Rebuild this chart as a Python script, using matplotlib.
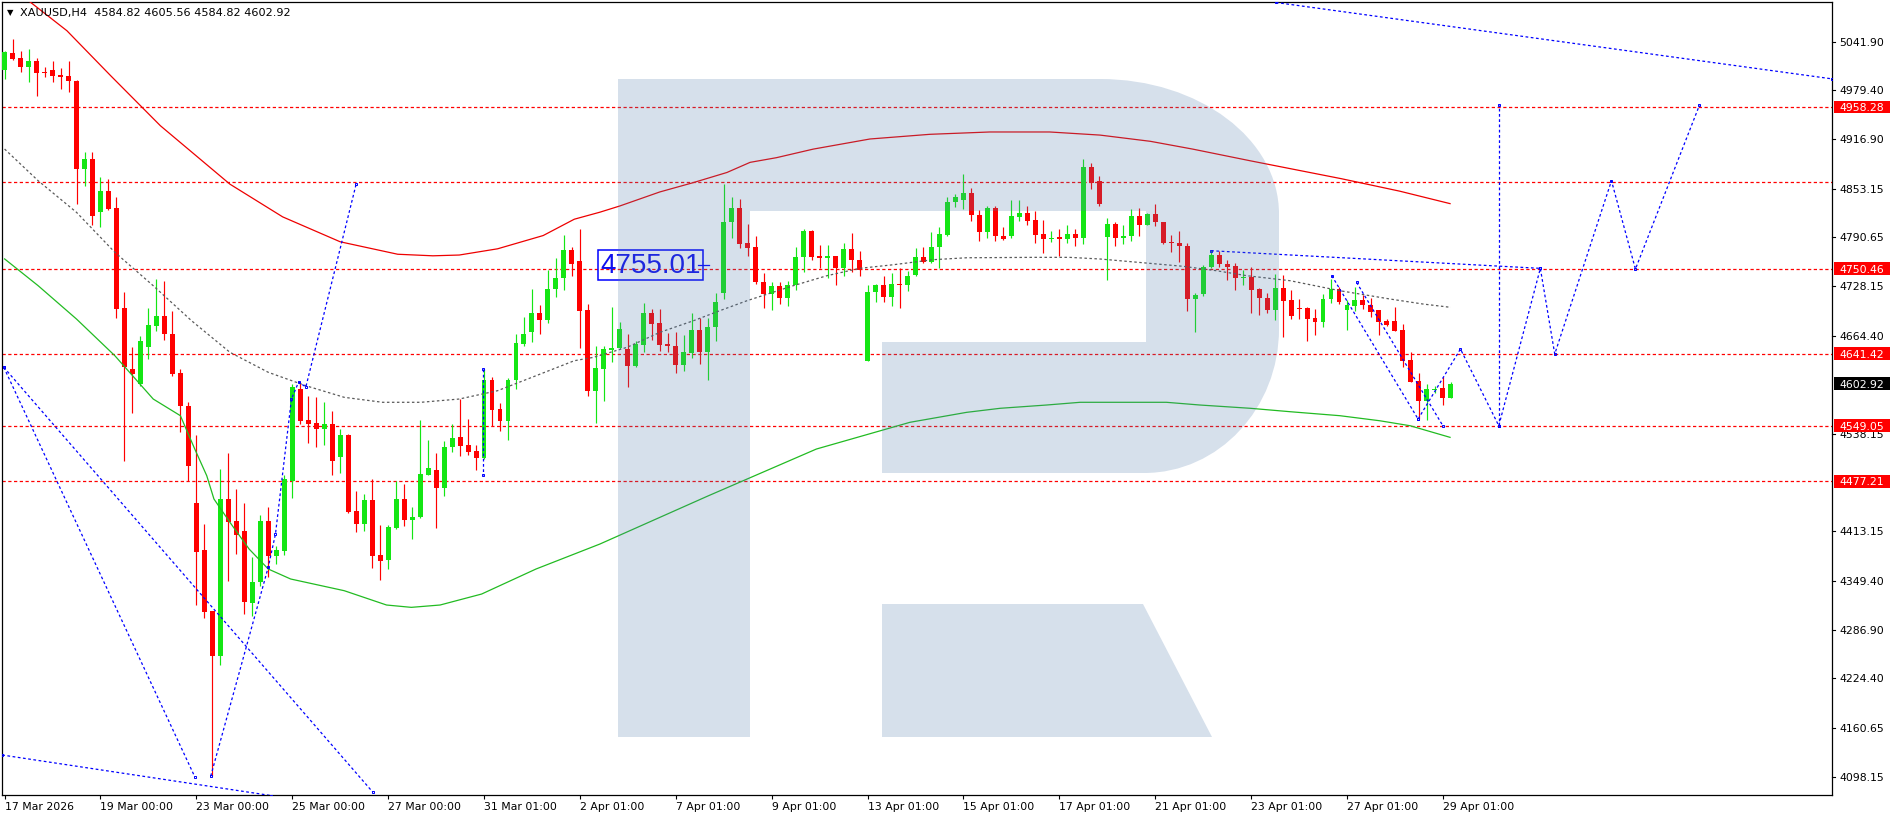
import numpy as np
import matplotlib
matplotlib.use('Agg')
import matplotlib.pyplot as plt
import matplotlib.transforms as mtransforms
from matplotlib.patches import PathPatch, Rectangle
from matplotlib.path import Path

W, H = 1896, 820

# ── H4 candles (bar 0 = 17 Mar 2026) ──
opens = [5006, 5028, 5021, 5010, 5017, 5003, 5005, 4999, 4998, 4992,
         4878, 4891, 4823, 4850, 4828, 4700, 4622, 4602, 4650, 4677,
         4690, 4667, 4616, 4574, 4450, 4389, 4311, 4253, 4455, 4426,
         4414, 4321, 4348, 4426, 4382, 4388, 4478, 4596, 4556, 4552,
         4545, 4551, 4509, 4537, 4439, 4423, 4453, 4383, 4376, 4418,
         4455, 4428, 4431, 4486, 4492, 4469, 4522, 4534, 4524, 4517,
         4508, 4607, 4570, 4555, 4607, 4654, 4669, 4693, 4684, 4724,
         4738, 4774, 4760, 4697, 4594, 4622, 4646, 4648, 4647, 4626,
         4653, 4694, 4681, 4654, 4651, 4627, 4642, 4672, 4644, 4676,
         4719, 4810, 4828, 4783, 4778, 4734, 4718, 4728, 4713, 4729,
         4765, 4799, 4767, 4764, 4767, 4751, 4776, 4761, 4632, 4721,
         4729, 4714, 4731, 4730, 4742, 4765, 4759, 4778, 4794, 4836,
         4839, 4848, 4820, 4798, 4829, 4793, 4793, 4817, 4822, 4813,
         4795, 4788, 4791, 4788, 4795, 4790, 4881, 4863, 4791, 4808,
         4790, 4792, 4818, 4807, 4821, 4810, 4784, 4784, 4779, 4711,
         4718, 4752, 4768, 4756, 4754, 4738, 4740, 4724, 4713, 4697,
         4726, 4710, 4700, 4700, 4687, 4682, 4712, 4724, 4697, 4703,
         4710, 4704, 4697, 4683, 4683, 4672, 4633, 4606, 4580, 4595,
         4597, 4584.82]
highs = [5030, 5045, 5030, 5032, 5021, 5010, 5017, 5008, 5017, 4993,
         4900, 4900, 4868, 4866, 4842, 4720, 4650, 4664, 4700, 4737,
         4735, 4696, 4622, 4579, 4537, 4423, 4311, 4493, 4514, 4467,
         4450, 4380, 4434, 4444, 4395, 4485, 4602, 4605, 4587, 4586,
         4579, 4568, 4545, 4538, 4465, 4461, 4480, 4421, 4421, 4478,
         4474, 4445, 4556, 4530, 4514, 4529, 4551, 4583, 4557, 4524,
         4622, 4611, 4578, 4610, 4667, 4688, 4724, 4704, 4749, 4764,
         4794, 4778, 4801, 4705, 4651, 4651, 4701, 4682, 4667, 4657,
         4707, 4699, 4699, 4668, 4669, 4665, 4694, 4687, 4687, 4719,
         4859, 4843, 4840, 4808, 4792, 4745, 4734, 4734, 4735, 4778,
         4801, 4800, 4781, 4781, 4767, 4783, 4796, 4773, 4729, 4731,
         4741, 4745, 4751, 4748, 4777, 4778, 4797, 4804, 4842, 4846,
         4872, 4854, 4826, 4831, 4831, 4804, 4839, 4839, 4831, 4825,
         4813, 4799, 4801, 4806, 4801, 4891, 4886, 4869, 4815, 4811,
         4806, 4827, 4828, 4822, 4833, 4811, 4794, 4799, 4783, 4719,
         4755, 4774, 4773, 4761, 4758, 4749, 4753, 4726, 4719, 4744,
         4742, 4723, 4712, 4701, 4699, 4718, 4737, 4727, 4710, 4727,
         4717, 4713, 4698, 4686, 4701, 4680, 4643, 4616, 4602, 4600,
         4611, 4605.56]
lows = [4994, 5019, 5003, 4990, 4972, 4996, 4990, 4981, 4977, 4834,
        4856, 4807, 4804, 4826, 4687, 4504, 4565, 4600, 4634, 4670,
        4659, 4613, 4541, 4478, 4319, 4302, 4099, 4241, 4350, 4384,
        4307, 4305, 4343, 4354, 4371, 4383, 4456, 4551, 4527, 4521,
        4524, 4485, 4488, 4437, 4412, 4414, 4366, 4351, 4365, 4416,
        4420, 4403, 4430, 4485, 4418, 4458, 4515, 4510, 4511, 4492,
        4506, 4548, 4542, 4530, 4596, 4651, 4656, 4667, 4681, 4714,
        4723, 4741, 4649, 4587, 4552, 4580, 4631, 4647, 4599, 4624,
        4644, 4659, 4645, 4643, 4616, 4619, 4636, 4628, 4607, 4657,
        4712, 4790, 4777, 4767, 4731, 4700, 4698, 4705, 4702, 4723,
        4746, 4761, 4751, 4738, 4730, 4741, 4746, 4741, 4632, 4708,
        4708, 4703, 4700, 4722, 4741, 4758, 4758, 4751, 4792, 4830,
        4827, 4812, 4786, 4790, 4786, 4787, 4790, 4812, 4806, 4783,
        4771, 4785, 4767, 4783, 4779, 4782, 4853, 4831, 4736, 4779,
        4782, 4786, 4793, 4806, 4805, 4782, 4772, 4759, 4696, 4669,
        4716, 4751, 4752, 4736, 4723, 4729, 4694, 4691, 4693, 4684,
        4663, 4686, 4686, 4658, 4665, 4675, 4706, 4705, 4672, 4696,
        4699, 4689, 4665, 4677, 4670, 4624, 4605, 4558, 4556, 4591,
        4576, 4584.82]
closes = [5029, 5020, 5010, 5017, 5002, 5002, 4998, 4997, 4992, 4878,
          4891, 4818, 4850, 4827, 4699, 4624, 4615, 4658, 4678, 4690,
          4667, 4615, 4574, 4497, 4387, 4310, 4253, 4455, 4425, 4408,
          4322, 4348, 4426, 4382, 4389, 4480, 4598, 4555, 4551, 4545,
          4551, 4504, 4537, 4438, 4423, 4454, 4382, 4375, 4419, 4455,
          4428, 4432, 4487, 4495, 4469, 4522, 4533, 4523, 4515, 4507,
          4607, 4569, 4555, 4607, 4655, 4667, 4693, 4684, 4724, 4738,
          4774, 4756, 4696, 4594, 4623, 4647, 4649, 4673, 4626, 4654,
          4694, 4680, 4653, 4651, 4627, 4643, 4672, 4644, 4676, 4708,
          4810, 4828, 4782, 4777, 4734, 4718, 4728, 4713, 4729, 4765,
          4799, 4766, 4764, 4767, 4751, 4776, 4761, 4749, 4721, 4729,
          4714, 4731, 4729, 4741, 4765, 4759, 4778, 4795, 4836, 4842,
          4848, 4820, 4798, 4829, 4793, 4788, 4818, 4822, 4812, 4794,
          4788, 4790, 4788, 4795, 4790, 4881, 4861, 4833, 4808, 4790,
          4792, 4818, 4807, 4821, 4810, 4783, 4783, 4779, 4711, 4717,
          4752, 4768, 4756, 4753, 4738, 4740, 4723, 4713, 4698, 4726,
          4709, 4690, 4699, 4686, 4682, 4712, 4724, 4708, 4704, 4710,
          4704, 4695, 4682, 4678, 4671, 4632, 4605, 4580, 4596, 4596,
          4584.82, 4602.92]

# ── time axis ──
x_label_bars = [0, 12, 24, 36, 48, 60, 72, 84, 96, 108, 120, 132, 144, 156, 168, 180]
x_labels = ['17 Mar 2026', '19 Mar 00:00', '23 Mar 00:00', '25 Mar 00:00', '27 Mar 00:00',
            '31 Mar 01:00', '2 Apr 01:00', '7 Apr 01:00', '9 Apr 01:00', '13 Apr 01:00',
            '15 Apr 01:00', '17 Apr 01:00', '21 Apr 01:00', '23 Apr 01:00', '27 Apr 01:00',
            '29 Apr 01:00']

# ── price axis ──
y_ticks = [5041.90, 4979.40, 4916.90, 4853.15, 4790.65, 4728.15, 4664.40,
           4538.15, 4413.15, 4349.40, 4286.90, 4224.40, 4160.65, 4098.15]
level_lines = [4958.28, 4862.00, 4750.46, 4641.42, 4549.05, 4477.21]
level_labels = [4958.28, 4750.46, 4641.42, 4549.05, 4477.21]
last_price = 4602.92
header = 'XAUUSD,H4  4584.82 4605.56 4584.82 4602.92'
note_price = 4755.01

# ── moving averages (bar, price) ──
red_ma_bar = [0, 3.25, 7.8, 13.3, 19.5, 28.2, 34.8, 42, 49.2, 53.6, 56.9, 61.7, 67.4, 71.3,
              74.5, 77, 82, 86.2, 90.4, 93.3, 96.6, 101.2, 108.3, 115.8, 123.3, 130.8,
              137.1, 143.4, 148.7, 155.9, 167.3, 174.6, 180.9]
red_ma_val = [5118, 5092.5, 5056, 4998, 4934, 4859, 4817, 4785, 4769, 4767, 4768, 4776,
              4793, 4814, 4823, 4831, 4849, 4861, 4874, 4887, 4893, 4904, 4917, 4923, 4926,
              4926, 4922, 4914, 4904, 4889, 4866, 4850, 4834]
green_ma_bar = [0, 4.2, 9, 13.8, 18.6, 22, 23.8, 25.3, 26.2, 28.2, 30.6, 33, 35.8, 42.5,
                47.8, 50.9, 54.5, 59.7, 66.5, 74.5, 88, 101.6, 113.3, 120.4, 124.6, 130.4,
                134.6, 145.4, 149.6, 155.9, 160.9, 167.1, 172.1, 175.9, 180.9]
green_ma_val = [4763, 4728.6, 4685.8, 4638.7, 4583.1, 4561.7, 4518.9, 4484.6, 4454.7,
                4424.8, 4390.5, 4364.8, 4352, 4337, 4318.6, 4315.6, 4318.6, 4332.7, 4364.8,
                4396.9, 4458.5, 4518.9, 4553.2, 4566, 4571.2, 4575.4, 4578.9, 4578.9,
                4575.4, 4571.2, 4566.8, 4561.7, 4555.2, 4548.8, 4533.9]
gray_ma_bar = [0, 4.2, 9, 13.8, 18.6, 23.4, 28.2, 33, 37.7, 42.5, 47.3, 52.1, 56.9, 61.7,
               66.5, 71.3, 73.7, 77.9, 82, 86.2, 89.5, 92.9, 98.7, 102.9, 107, 111.2, 116.2,
               120.4, 128.7, 133.3, 137.1, 142.9, 147.5, 151.7, 155.5, 160.9, 167.1, 173.4,
               177.5, 181]
gray_ma_val = [4904.1, 4863.4, 4822.8, 4771.5, 4728.6, 4683.6, 4643.1, 4617.4, 4600.2,
               4585.3, 4578.9, 4578.9, 4583.1, 4593.8, 4613, 4632.3, 4636.6, 4649.5, 4668.7,
               4683.6, 4696.5, 4709.3, 4728.6, 4741.4, 4750.9, 4755.5, 4762, 4764.5, 4765,
               4765, 4762.9, 4757.7, 4753.5, 4747.8, 4741.4, 4735, 4722.2, 4711.5, 4705.1,
               4700.8]

# ── blue drawn lines (bar, price) ──
blue_lines = [
    ([-0.1, 23.8], [4623.8, 4098.1]),
    ([-0.1, 46.1], [4623.8, 4078.1]),
    ([-0.3, 33.3], [4126.0, 4074.0]),
    ([25.8, 33, 33.9, 35.9, 36.8, 37.7, 44], [4099, 4367.4, 4409.8, 4583.1, 4605, 4598.5, 4859.2]),
    ([59.9, 59.9], [4622, 4485]),
    ([159.1, 228.7], [5092.3, 4994.2]),
    ([151, 192.2], [4773.5, 4750.9]),
    ([166.1, 176.9], [4741.4, 4557.4]),
    ([169.2, 180], [4732.9, 4548.8]),
    ([176.9, 182.2, 187, 192.2, 194, 201.1, 204.1, 212.1],
     [4557.4, 4647.3, 4548.8, 4750.9, 4640.9, 4863.4, 4750, 4960.1]),
    ([187, 187], [4548.8, 4960.1]),
]

GREEN = '#14e614'
RED = '#ff0000'
BLUE = '#0000ff'
FONT = 'DejaVu Sans'
FS = 7.8

fig = plt.figure(figsize=(W / 100, H / 100), dpi=100)
fig.patch.set_facecolor('white')
ax = fig.add_axes([2 / W, 1 - 796 / H, 1830 / W, 793 / H])
ax.set_facecolor('white')

# pixel transforms for decoration placed like the terminal window
px = mtransforms.Affine2D().scale(1 / W, -1 / H).translate(0, 1) + fig.transFigure
blend = mtransforms.blended_transform_factory(px, ax.transData)

# candles
o = np.array(opens, float)
h = np.array(highs, float)
l = np.array(lows, float)
c = np.array(closes, float)
idx = np.arange(len(o))
up = c >= o
cols = np.where(up, GREEN, RED)
ax.vlines(idx, l, h, colors=cols, lw=0.85, zorder=3)
ax.bar(idx, np.maximum(np.abs(c - o), 1.4), bottom=np.minimum(o, c), width=0.62,
       color=cols, linewidth=0, zorder=3)

# level lines
for lv in level_lines:
    ax.axhline(lv, color=RED, lw=0.9, dashes=(2.6, 2.0), zorder=2)

# moving averages
ax.plot(red_ma_bar, red_ma_val, color='#ee0000', lw=0.9, zorder=4)
ax.plot(green_ma_bar, green_ma_val, color='#22bb22', lw=0.9, zorder=4)
ax.plot(gray_ma_bar, gray_ma_val, color='#5a5a5a', lw=0.9, dashes=(2.0, 2.0), zorder=4)

# blue drawings
for bx, by in blue_lines:
    ax.plot(bx, by, color=BLUE, lw=0.9, dashes=(2.2, 2.0), zorder=4,
            marker='s', ms=2.1, mfc='none', mec=BLUE, mew=0.7)

# price note
ax.text(74.6, note_price, f'{note_price:.2f}', color='#1010ee', fontsize=20,
        family='Liberation Sans', ha='left', va='center', zorder=4,
        bbox=dict(boxstyle='square,pad=0.08', fc='none', ec=BLUE, lw=1.1))
ax.plot([86.8, 88.2], [note_price, note_price], color=BLUE, lw=0.9, zorder=4)

# watermark logo
R = Path.MOVETO
LN = Path.LINETO
C4 = Path.CURVE4
verts = [(618, 80), (1100, 80), (1199, 80), (1279, 140), (1279, 215), (1279, 330),
         (1279, 409), (1219, 474), (1144, 474), (882, 474), (882, 343), (1146, 343),
         (1146, 212), (750, 212), (750, 738), (618, 738), (618, 80),
         (882, 605), (1143, 605), (1212, 738), (882, 738), (882, 605)]
codes = [R, LN, C4, C4, C4, LN, C4, C4, C4, LN, LN, LN, LN, LN, LN, LN, Path.CLOSEPOLY,
         R, LN, LN, LN, Path.CLOSEPOLY]
logo = PathPatch(Path(verts, codes), transform=px, fc=(78 / 255, 122 / 255, 170 / 255),
                 ec='none', alpha=0.23, zorder=6)
ax.add_patch(logo)

ax.set_xlim(-0.325, 228.7)
ax.set_ylim(4074.65, 5092.9)

for s in ax.spines.values():
    s.set_linewidth(0.9)
    s.set_color('black')

ax.set_yticks([])
ax.set_xticks(x_label_bars)
ax.set_xticklabels(x_labels, ha='left', family=FONT, fontsize=FS)
ax.tick_params(axis='x', length=3, width=0.8, pad=1.5, direction='out')

# right price scale
for t in y_ticks:
    ax.plot([1832, 1835], [t, t], transform=blend, color='black', lw=0.8, clip_on=False)
    ax.text(1839, t, f'{t:.2f}', transform=blend, va='center', ha='left',
            fontsize=FS, family=FONT, clip_on=False, zorder=10)
for lv in level_labels:
    ax.add_patch(Rectangle((1834, lv - 8), 56, 16, transform=blend, fc=RED, ec='none',
                           clip_on=False, zorder=20))
    ax.text(1839, lv, f'{lv:.2f}', transform=blend, va='center', ha='left', color='white',
            fontsize=FS, family=FONT, clip_on=False, zorder=21)
ax.add_patch(Rectangle((1834, last_price - 8), 56, 16, transform=blend, fc='black',
                       ec='none', clip_on=False, zorder=20))
ax.text(1839, last_price, f'{last_price:.2f}', transform=blend, va='center', ha='left',
        color='white', fontsize=FS, family=FONT, clip_on=False, zorder=21)

# header
ax.text(7, 13, '\u25bc', transform=px, fontsize=6, family=FONT, va='center', ha='left',
        zorder=10)
ax.text(20.5, 13, header, transform=px, fontsize=8.1, family=FONT, va='center', ha='left',
        zorder=10)

fig.savefig('out.png', dpi=100, facecolor='white')
